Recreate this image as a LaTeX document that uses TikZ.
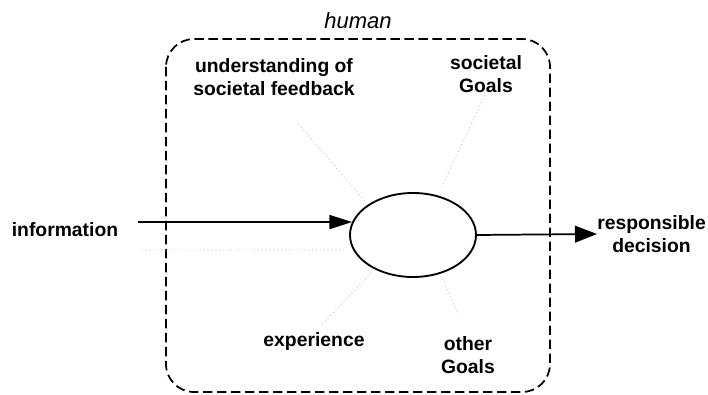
\documentclass[tikz,border=0pt]{standalone}
\usepackage{fontspec}
\setmainfont{Liberation Sans}
\usepackage{tikz}
\usetikzlibrary{shapes.geometric}
\usetikzlibrary{positioning}
\usetikzlibrary{arrows.meta}

\tikzset{
  factor/.style={font=\fontsize{14.5}{17}\selectfont\bfseries, align=center, inner sep=0pt},
  faint/.style={gray!45, line width=0.7pt, dash pattern=on 0.7pt off 2.2pt},
  flow/.style={line width=1.3pt},
}

\begin{document}
\begin{tikzpicture}[x=0.75pt, y=-0.75pt]

\useasboundingbox (0,0) rectangle (708,395);

%---------------------------------------
% The human (dashed box)
%---------------------------------------
\draw[line width=1.3pt, dash pattern=on 7pt off 3.5pt, rounded corners=21pt]
  (166,39) rectangle (550,392);
\node[font=\fontsize{16.5}{19}\selectfont\itshape] (human) at (358,21) {human};

% Decision core
\node[draw, ellipse, line width=1.4pt, minimum width=94.5pt, minimum height=63pt,
      inner sep=0pt] (core) at (413,235) {};

%---------------------------------------
% Factors
%---------------------------------------
\node[factor] (info)       at (65,230)  {information};
\node[factor] (feedback)   at (274,77)  {understanding of\\societal feedback};
\node[factor] (goals)      at (486,74)  {societal\\Goals};
\node[factor] (experience) at (314,342) {experience};
\node[factor] (other)      at (468,355) {other\\Goals};
\node[factor, anchor=west] (decision) at (597,234) {responsible\\decision};

\coordinate (infoin)  at (138,222);
\coordinate (infolow) at (142,250);

% Main flow
\draw[flow, -{Triangle[length=17pt, width=10.5pt]}] (infoin) -- (core.168);
\draw[flow, -{Triangle[length=16.5pt, width=12.5pt]}] (core.east) -- (decision.west);

% Faint links into the core
\draw[faint, shorten <=28pt, shorten >=3pt] (feedback.south) -- (core.146);
\draw[faint, shorten <=2pt, shorten >=7pt]  (goals.south) -- (core.58);
\draw[faint, shorten >=7pt]                 (infolow) -- (core.194);
\draw[faint, shorten <=4pt, shorten >=8pt]  (core.222) -- (experience.north);
\draw[faint, shorten <=4pt, shorten >=18pt] (core.-55) -- (other.north);

\end{tikzpicture}
\end{document}
